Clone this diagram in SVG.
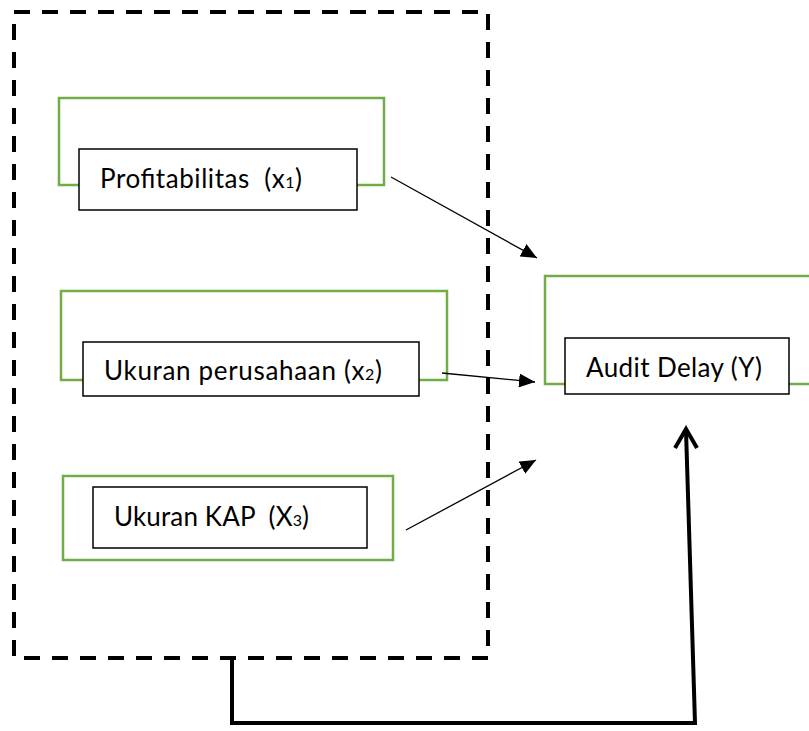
<svg xmlns="http://www.w3.org/2000/svg" width="809" height="731" viewBox="0 0 809 731">
  <defs>
    <style>
      .frame { fill: none; stroke: #000; stroke-width: 4; stroke-dasharray: 16 12; }
      .outer { fill: none; stroke: #70AD47; stroke-width: 2.5; }
      .box { fill: #fff; stroke: #000; stroke-width: 1.5; }
      .lbl { font-family: Lato, "Open Sans", "Liberation Sans", sans-serif; font-size: 26px; fill: #000; white-space: pre; }
      .sub { font-size: 16px; }
      .thin { fill: none; stroke: #000; stroke-width: 1.3; }
      .thick { fill: none; stroke: #000; stroke-width: 4; }
    </style>
    <marker id="tri" markerUnits="userSpaceOnUse" markerWidth="18" markerHeight="14" refX="16" refY="7" orient="auto">
      <path d="M0,0 L16,7 L0,14 Z" fill="#000"/>
    </marker>
  </defs>
  <rect width="809" height="731" fill="#fff"/>

  <g id="frame">
    <path class="frame" d="M14,12 H488 V658 H14 Z"/>
  </g>

  <g id="node-x1">
    <rect class="outer" x="59" y="98" width="325" height="87"/>
    <rect class="box" x="79" y="149" width="278" height="61"/>
    <text class="lbl" x="100" y="188" xml:space="preserve" textLength="202" lengthAdjust="spacing">Profitabilitas  (x<tspan class="sub">1</tspan>)</text>
  </g>

  <g id="node-x2">
    <rect class="outer" x="61" y="291" width="386" height="89"/>
    <rect class="box" x="83" y="342" width="336" height="54"/>
    <text class="lbl" x="104" y="380" xml:space="preserve" textLength="278" lengthAdjust="spacing">Ukuran perusahaan (x<tspan class="sub">2</tspan>)</text>
  </g>

  <g id="node-x3">
    <rect class="outer" x="63" y="476" width="330" height="84"/>
    <rect class="box" x="93" y="487" width="274" height="61"/>
    <text class="lbl" x="114" y="526" xml:space="preserve" textLength="195" lengthAdjust="spacing">Ukuran KAP  (X<tspan class="sub">3</tspan>)</text>
  </g>

  <g id="node-y">
    <rect class="outer" x="545" y="276" width="300" height="108"/>
    <rect class="box" x="565" y="338" width="224" height="56"/>
    <text class="lbl" x="586" y="377" textLength="176" lengthAdjust="spacing">Audit Delay (Y)</text>
  </g>

  <g id="connectors">
    <line class="thin" x1="391" y1="177" x2="537" y2="258" marker-end="url(#tri)"/>
    <line class="thin" x1="442" y1="373" x2="535" y2="382" marker-end="url(#tri)"/>
    <line class="thin" x1="406" y1="530" x2="536" y2="460" marker-end="url(#tri)"/>
    <path class="thick" d="M232,658 V723 H695 L686,430"/>
    <path class="thick" stroke-width="3.5" d="M675,448 L686,429 L697,448"/>
  </g>
</svg>
